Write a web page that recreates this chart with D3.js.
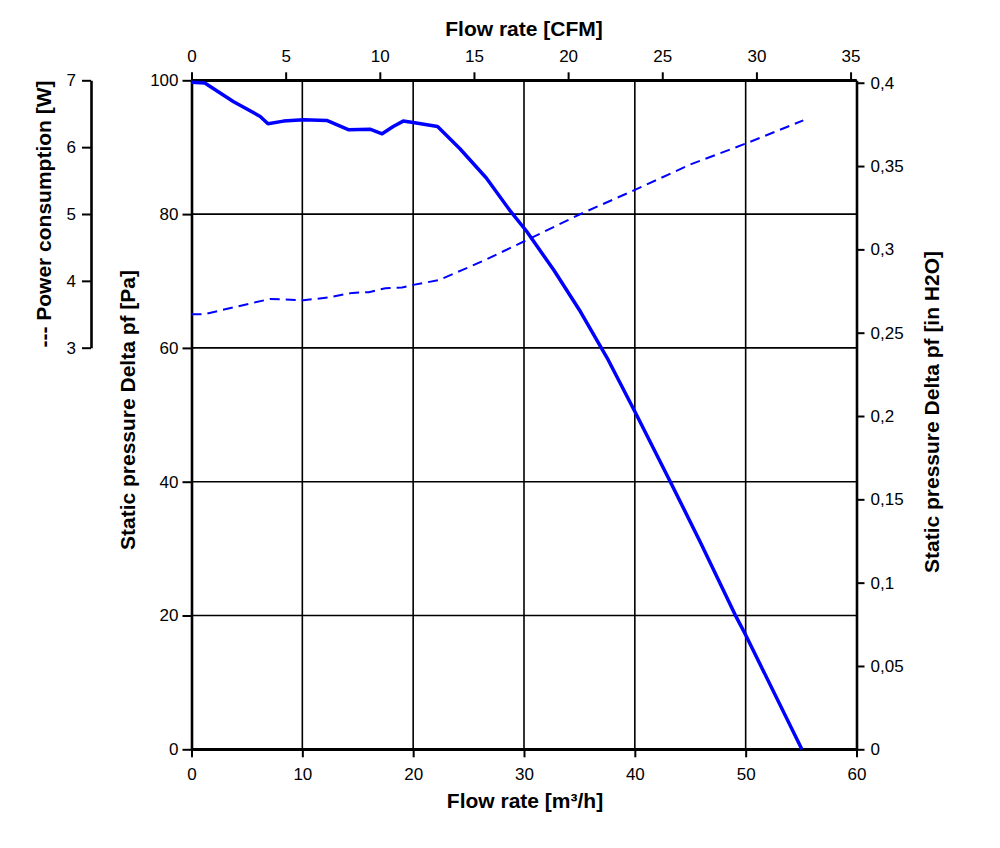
<!DOCTYPE html>
<html>
<head>
<meta charset="utf-8">
<script src="https://cdn.jsdelivr.net/npm/d3@7"></script>
<style>
  html, body { margin: 0; padding: 0; background: #ffffff; }
  svg { display: block; font-family: "Liberation Sans", Arial, sans-serif; }
</style>
</head>
<body>
<div id="chart"></div>
<script>
/*****************************************************
 * DATA
 *****************************************************/
// static pressure curve (m3/h -> Pa)
const flowPressure = [0, 1.2, 3.8, 6.2, 6.9, 8.3, 10.1, 12.2, 14.2, 16.1, 17.2, 18.2, 19.1, 20.0, 22.2, 24.2, 26.6, 28.7, 30.25, 32.7, 35.1, 37.6, 40.0, 43.2, 45.9, 49.05, 50.0, 55.07];
const pressure = [99.7, 99.6, 96.8, 94.6, 93.5, 93.9, 94.1, 94.0, 92.6, 92.7, 92.0, 93.1, 93.9, 93.7, 93.1, 89.8, 85.4, 80.6, 77.4, 71.6, 65.4, 58.2, 50.5, 40.0, 31.0, 20.1, 17.1, 0];

// power consumption curve (m3/h -> W)
const flowPower = [0, 1.1, 7.1, 10.1, 12.3, 14.5, 16.0, 17.5, 19.0, 20.0, 22.3, 24.4, 26.6, 30.25, 35.1, 40.0, 45.0, 50.1, 55.2];
const power = [3.50, 3.50, 3.73, 3.71, 3.75, 3.82, 3.83, 3.89, 3.90, 3.94, 4.01, 4.16, 4.32, 4.61, 5.00, 5.36, 5.74, 6.06, 6.40];

// tick labels
const flowTicks = [0, 10, 20, 30, 40, 50, 60];
const cfmTicks = [0, 5, 10, 15, 20, 25, 30, 35];
const paTicks = [0, 20, 40, 60, 80, 100];
const inTicks = [0, 0.05, 0.1, 0.15, 0.2, 0.25, 0.3, 0.35, 0.4];
const wattTicks = [3, 4, 5, 6, 7];

const M3H_TO_CFM = 0.58858;
const PA_TO_INH2O = 0.0040146;

/*****************************************************
 * LAYOUT
 *****************************************************/
const width = 1000;
const height = 848;

const plotL = 191.5, plotR = 856.5, plotT = 80.3, plotB = 749.3;

const svg = d3.select("#chart")
  .append("svg")
  .attr("width", width)
  .attr("height", height);

const x = d3.scaleLinear().domain([0, 60]).range([plotL, plotR]);
const xCfm = d3.scaleLinear().domain([0, 60 * M3H_TO_CFM]).range([plotL, plotR]);
const y = d3.scaleLinear().domain([0, 100]).range([plotB, plotT]);
const yIn = d3.scaleLinear().domain([0, 100 * PA_TO_INH2O]).range([plotB, plotT]);
const yW = d3.scaleLinear().domain([3, 7]).range([347.7, plotT]);

const fmtComma = d => String(d).replace(".", ",");

/*****************************************************
 * GRID
 *****************************************************/
svg.append("g")
  .selectAll("line")
  .data(flowTicks.slice(1, -1))
  .enter()
  .append("line")
  .attr("x1", d => x(d)).attr("x2", d => x(d))
  .attr("y1", plotT).attr("y2", plotB)
  .attr("stroke", "#000").attr("stroke-width", 1.6);

svg.append("g")
  .selectAll("line")
  .data(paTicks.slice(1, -1))
  .enter()
  .append("line")
  .attr("x1", plotL).attr("x2", plotR)
  .attr("y1", d => y(d)).attr("y2", d => y(d))
  .attr("stroke", "#000").attr("stroke-width", 1.6);

/*****************************************************
 * AXES
 *****************************************************/
function styleAxis(g) {
  g.select(".domain").attr("stroke-width", 2.6);
  g.selectAll(".tick line").attr("stroke-width", 2);
  g.selectAll(".tick text")
    .attr("font-size", "17px")
    .attr("fill", "#000")
    .attr("font-family", "Liberation Sans, Arial, sans-serif");
}

svg.append("g")
  .attr("transform", `translate(0,${plotB})`)
  .call(d3.axisBottom(x).tickValues(flowTicks).tickSize(8).tickSizeOuter(0).tickPadding(11))
  .call(styleAxis);

svg.append("g")
  .attr("transform", `translate(0,${plotT})`)
  .call(d3.axisTop(xCfm).tickValues(cfmTicks).tickSize(8).tickSizeOuter(0).tickPadding(10))
  .call(styleAxis);

svg.append("g")
  .attr("transform", `translate(${plotL},0)`)
  .call(d3.axisLeft(y).tickValues(paTicks).tickSize(9).tickSizeOuter(0).tickPadding(4))
  .call(styleAxis);

svg.append("g")
  .attr("transform", `translate(${plotR},0)`)
  .call(d3.axisRight(yIn).tickValues(inTicks).tickFormat(fmtComma).tickSize(8).tickSizeOuter(0).tickPadding(6))
  .call(styleAxis);

svg.append("g")
  .attr("transform", "translate(91,0)")
  .call(d3.axisLeft(yW).tickValues(wattTicks).tickFormat(d3.format("d")).tickSize(9).tickSizeOuter(0).tickPadding(6))
  .call(styleAxis);

// frame lines
svg.append("line")
  .attr("x1", plotL).attr("x2", plotR)
  .attr("y1", plotT).attr("y2", plotT)
  .attr("stroke", "#000").attr("stroke-width", 2.6);
svg.append("line")
  .attr("x1", plotL).attr("x2", plotR)
  .attr("y1", plotB).attr("y2", plotB)
  .attr("stroke", "#000").attr("stroke-width", 2.6);

/*****************************************************
 * CURVES
 *****************************************************/
const pressureLine = d3.line()
  .x((d, i) => x(flowPressure[i]))
  .y(d => y(d));

svg.append("path")
  .datum(pressure)
  .attr("d", pressureLine)
  .attr("fill", "none")
  .attr("stroke", "#0000ff")
  .attr("stroke-width", 3.5)
  .attr("stroke-linejoin", "round");

const powerLine = d3.line()
  .x((d, i) => x(flowPower[i]))
  .y(d => yW(d));

svg.append("path")
  .datum(power)
  .attr("d", powerLine)
  .attr("fill", "none")
  .attr("stroke", "#0000ff")
  .attr("stroke-width", 2)
  .attr("stroke-dasharray", "10,6");

/*****************************************************
 * TITLES
 *****************************************************/
function title(txt, tx, ty, rot) {
  svg.append("text")
    .attr("transform", `translate(${tx},${ty}) rotate(${rot})`)
    .attr("text-anchor", "middle")
    .attr("dominant-baseline", "middle")
    .attr("font-size", "21px")
    .attr("font-weight", 700)
    .attr("fill", "#000")
    .text(txt);
}

title("Flow rate [CFM]", 524, 30, 0);
title("Flow rate [m³/h]", 525, 802, 0);
title("Static pressure Delta pf [Pa]", 129, 410, -90);
title("Static pressure Delta pf [in H2O]", 933, 412, -90);
title("--- Power consumption [W]", 45, 214, -90);
</script>
</body>
</html>
